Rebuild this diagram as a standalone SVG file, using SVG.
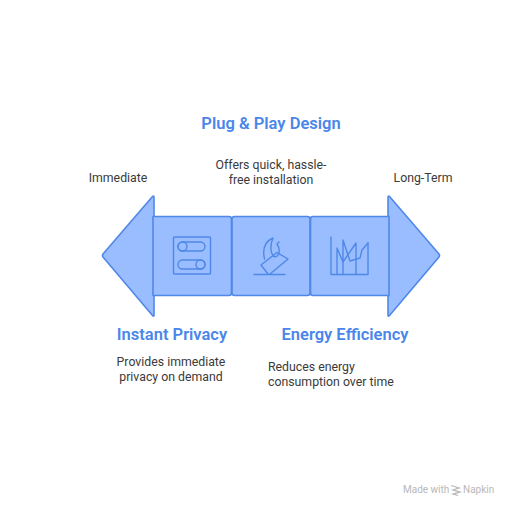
<svg xmlns="http://www.w3.org/2000/svg" width="512" height="512" viewBox="0 0 512 512">
<style>
.s{fill:#99bdff;stroke:#5088e8;stroke-width:1.6;stroke-linejoin:round}
.i{fill:none;stroke:#5088e8;stroke-width:1.4;stroke-linejoin:round;stroke-linecap:round}
text{font-family:Roboto,"Liberation Sans",sans-serif}
.h{font-size:16.500px;font-weight:600;fill:#4a86ea}
.b{font-size:12.300px;fill:#3a3a3a}
.w{font-size:10px;fill:#b8b8b8}
</style>
<rect width="512" height="512" fill="#ffffff"/>
<g id="arrow-left">
<path class="s" d="M152.500 196.500Q154 195 154 198V315Q154 317 152.500 315.500L103 257Q102 255.500 103 254Z"/>
</g>
<g id="arrow-right">
<path class="s" d="M388 198Q388 195 389.500 196.500L439 254Q440 255.500 439 257L389.500 315.500Q388 317 388 315Z"/>
</g>
<g id="node-privacy">
<path class="s" d="M153 216.500H229Q231.500 216.500 231.500 219V293Q231.500 295.500 229 295.500H153Z"/>
<rect class="i" x="173.500" y="237" width="37" height="37" rx="1"/>
<rect class="i" x="178" y="242" width="27" height="9" rx="4.500"/>
<circle class="i" cx="182.500" cy="246.500" r="4.500"/>
<rect class="i" x="178" y="260" width="27" height="9" rx="4.500"/>
<circle class="i" cx="200.500" cy="264.500" r="4.500"/>
</g>
<g id="node-plug">
<rect class="s" x="232" y="216.500" width="78" height="79" rx="2.500"/>
<path class="i" d="M254 274.500H285"/>
<path class="i" d="M268 274L261 265L277 252.500L288 259L270 274"/>
<path class="i" d="M264.500 259C262 248 266 241 273 238C270 245 270 253 274 256.500C279 258 281 250 277 244L279 242"/>
</g>
<g id="node-energy">
<path class="s" d="M389 216.500H313Q310.500 216.500 310.500 219V293Q310.500 295.500 313 295.500H389Z"/>
<path class="i" d="M331 237V274.500H368V243"/>
<path class="i" d="M337 274.500V248L343 262V240L350 261L360 258L362 250L368 243"/>
<path class="i" d="M343 262V274.500M343 262L356 243V274.500"/>
</g>
<g id="labels">
<text class="h" x="271" y="129" text-anchor="middle">Plug &amp; Play Design</text>
<text class="b" x="271" y="169" text-anchor="middle">Offers quick, hassle-</text>
<text class="b" x="271" y="184" text-anchor="middle">free installation</text>
<text class="b" x="118" y="182" text-anchor="middle">Immediate</text>
<text class="b" x="423" y="182" text-anchor="middle">Long-Term</text>
<text class="h" x="172" y="340" text-anchor="middle">Instant Privacy</text>
<text class="b" x="171" y="366" text-anchor="middle">Provides immediate</text>
<text class="b" x="171" y="381" text-anchor="middle">privacy on demand</text>
<text class="h" x="345" y="340" text-anchor="middle">Energy Efficiency</text>
<text class="b" x="268" y="371">Reduces energy</text>
<text class="b" x="268" y="386">consumption over time</text>
</g>
<g id="watermark">
<text class="w" x="403" y="493">Made with</text>
<path d="M451 485.500L459 488L453 490L460 492L453 494L458 495.500" fill="none" stroke="#b8b8b8" stroke-width="1.300"/>
<text class="w" x="463" y="493">Napkin</text>
</g>
</svg>
